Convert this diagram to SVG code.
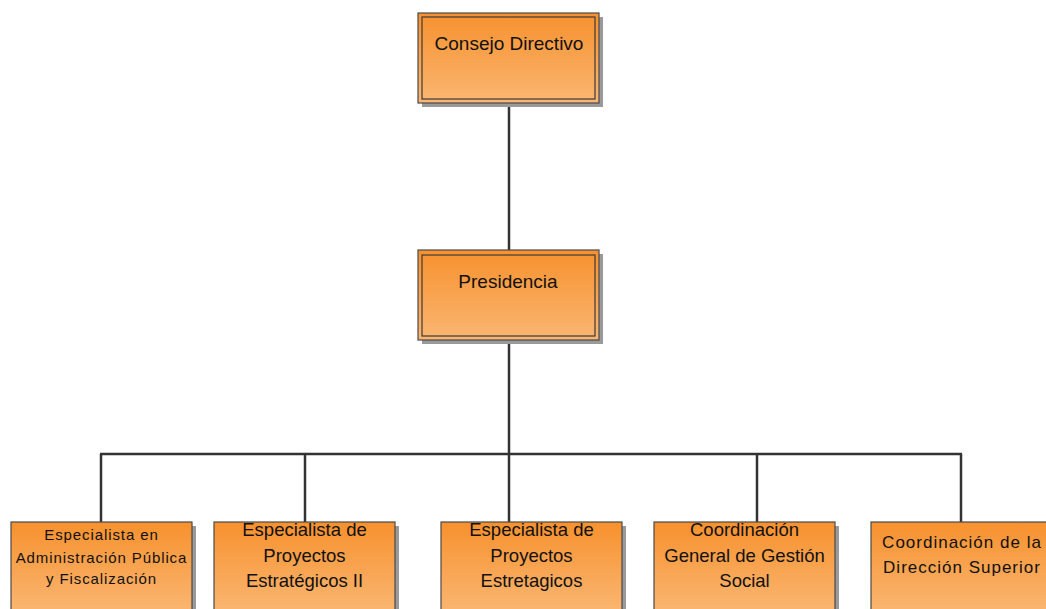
<svg xmlns="http://www.w3.org/2000/svg" width="1046" height="609" viewBox="0 0 1046 609">
<defs>
<linearGradient id="og" x1="0" y1="0" x2="0" y2="1">
<stop offset="0" stop-color="#F7912E"/>
<stop offset="1" stop-color="#FAB672"/>
</linearGradient>
<style>
.sh{fill:#9a9a9a;}
.box{fill:url(#og);stroke:#4a4a4a;stroke-width:1.2;}
.inner{fill:none;stroke:#3a3a3a;stroke-width:1.2;}
.t{font-family:"Liberation Sans",Arial,sans-serif;fill:#111;text-anchor:middle;}
.c{stroke:#333;stroke-width:2.5;fill:none;}
</style>
</defs>
<rect width="1046" height="609" fill="#fff"/>
<g id="connectors">
<line class="c" x1="509" y1="103" x2="509" y2="250"/>
<line class="c" x1="509" y1="340" x2="509" y2="522"/>
<line class="c" x1="100" y1="454" x2="962" y2="454"/>
<line class="c" x1="101" y1="454" x2="101" y2="522"/>
<line class="c" x1="305" y1="454" x2="305" y2="522"/>
<line class="c" x1="757" y1="454" x2="757" y2="522"/>
<line class="c" x1="961" y1="454" x2="961" y2="522"/>
</g>
<g id="consejo">
<rect class="sh" x="422" y="17" width="181" height="90"/>
<rect class="box" x="418" y="13" width="181" height="90"/>
<rect class="inner" x="422" y="17" width="173" height="82"/>
<text class="t" x="509" y="50" font-size="19">Consejo Directivo</text>
</g>
<g id="presidencia">
<rect class="sh" x="422" y="254" width="181" height="90"/>
<rect class="box" x="418" y="250" width="181" height="90"/>
<rect class="inner" x="422" y="255" width="173" height="81"/>
<text class="t" x="508" y="288" font-size="19">Presidencia</text>
</g>
<g id="esp-admin">
<rect class="sh" x="15" y="526" width="181" height="90"/>
<rect class="box" x="11" y="522" width="181" height="90"/>
<text class="t" x="101.5" font-size="15" letter-spacing="0.9"><tspan x="101.5" y="540">Especialista en</tspan><tspan x="101.5" y="563">Administración Pública</tspan><tspan x="101.5" y="584">y Fiscalización</tspan></text>
</g>
<g id="esp-proy-ii">
<rect class="sh" x="218" y="526" width="181" height="90"/>
<rect class="box" x="214" y="522" width="181" height="90"/>
<text class="t" font-size="18.5"><tspan x="304.5" y="536">Especialista de</tspan><tspan x="304.5" y="561.5">Proyectos</tspan><tspan x="304.5" y="587">Estratégicos II</tspan></text>
</g>
<g id="esp-proy">
<rect class="sh" x="445" y="526" width="181" height="90"/>
<rect class="box" x="441" y="522" width="181" height="90"/>
<text class="t" font-size="18.5"><tspan x="531.5" y="536">Especialista de</tspan><tspan x="531.5" y="561.5">Proyectos</tspan><tspan x="531.5" y="587">Estretagicos</tspan></text>
</g>
<g id="coord-social">
<rect class="sh" x="658" y="526" width="181" height="90"/>
<rect class="box" x="654" y="522" width="181" height="90"/>
<text class="t" font-size="18.5"><tspan x="744.5" y="536">Coordinación</tspan><tspan x="744.5" y="561.5">General de Gestión</tspan><tspan x="744.5" y="587">Social</tspan></text>
</g>
<g id="coord-direccion">
<rect class="sh" x="875" y="526" width="181" height="90"/>
<rect class="box" x="871" y="522" width="181" height="90"/>
<text class="t" font-size="17" letter-spacing="1"><tspan x="962" y="548">Coordinación de la</tspan><tspan x="962" y="573">Dirección Superior</tspan></text>
</g>
</svg>
